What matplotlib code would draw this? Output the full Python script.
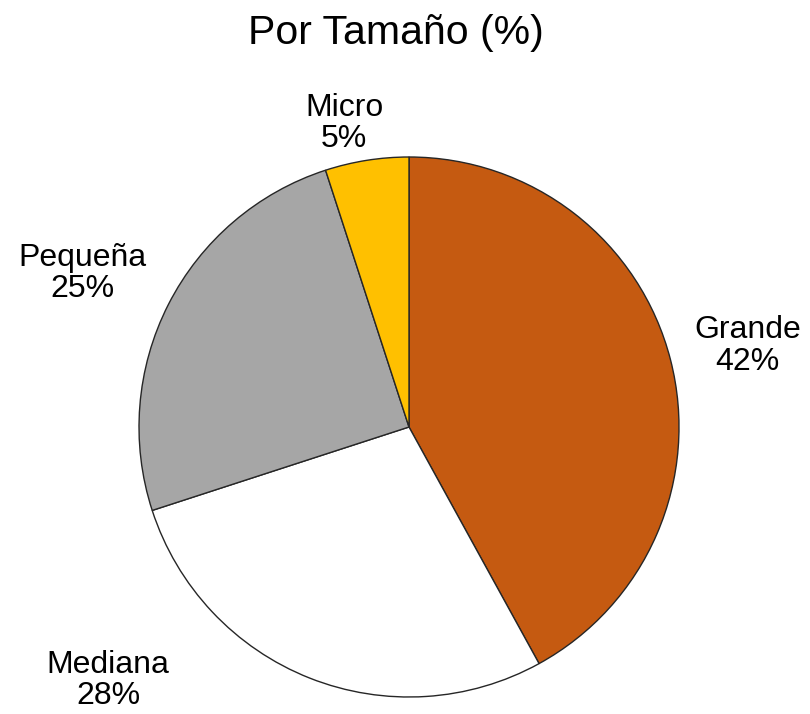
import matplotlib
matplotlib.use("Agg")
from matplotlib import pyplot as plt
import numpy as np

plt.rcParams['font.family'] = ['Liberation Sans', 'DejaVu Sans']

# --------------- Data ---------------
labels = ["Grande", "Mediana", "Pequeña", "Micro"]
values = [42, 28, 25, 5]
colors = ["#C55A11", "#FFFFFF", "#A6A6A6", "#FFC000"]

# label positions (data units, pie radius = 1)
label_pos = [(1.255, 0.30), (-1.115, -0.94), (-1.21, 0.57), (-0.24, 1.125)]

# --------------- Plot ---------------
fig = plt.figure(figsize=(8.1, 7.14), dpi=100)
ax = fig.add_axes([139/810, 17/714, 540/810, 540/714])

ax.pie(values, colors=colors, startangle=90, counterclock=False,
       wedgeprops=dict(edgecolor="#262626", linewidth=1.0), radius=1)

for lab, v, (x, y) in zip(labels, values, label_pos):
    ax.text(x, y, f"{lab}\n{v}%", ha="center", va="center", fontsize=23,
            linespacing=1.05, clip_on=False)

ax.set_xlim(-1, 1)
ax.set_ylim(-1, 1)
ax.axis('off')

fig.text(396/810, 1 - 44/714, "Por Tamaño (%)", ha="center", va="baseline", fontsize=29.5)

fig.savefig("out.png", dpi=100)
